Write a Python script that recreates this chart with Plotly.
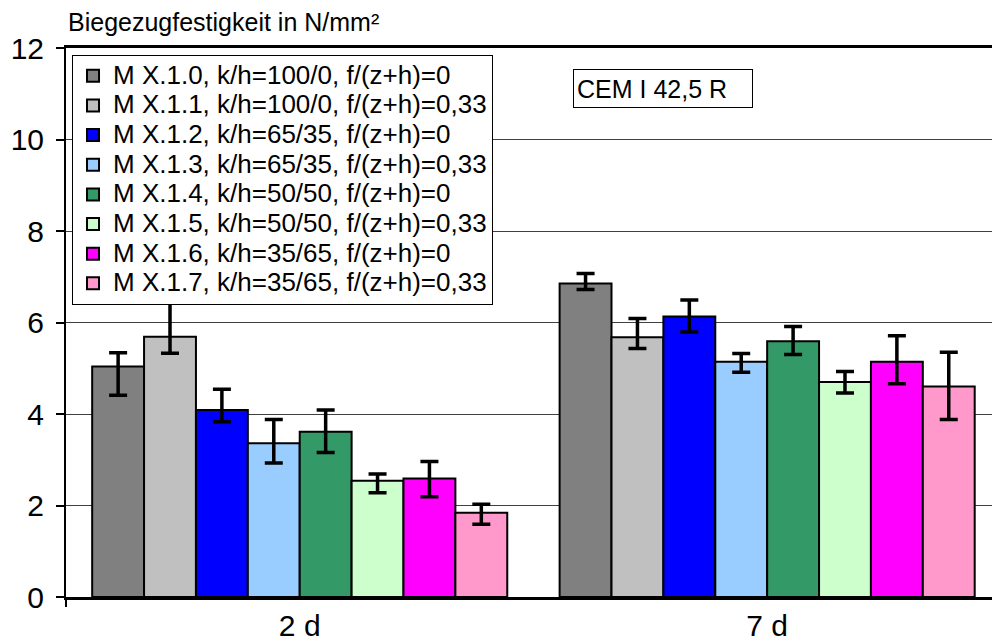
import plotly.graph_objects as go

categories = ["2 d", "7 d"]
series_names = [
    "M X.1.0, k/h=100/0, f/(z+h)=0",
    "M X.1.1, k/h=100/0, f/(z+h)=0,33",
    "M X.1.2, k/h=65/35, f/(z+h)=0",
    "M X.1.3, k/h=65/35, f/(z+h)=0,33",
    "M X.1.4, k/h=50/50, f/(z+h)=0",
    "M X.1.5, k/h=50/50, f/(z+h)=0,33",
    "M X.1.6, k/h=35/65, f/(z+h)=0",
    "M X.1.7, k/h=35/65, f/(z+h)=0,33",
]
colors = ["#808080", "#C0C0C0", "#0000FF", "#99CCFF", "#339966", "#CCFFCC", "#FF00FF", "#FF99CC"]

# mean values [2 d, 7 d]
values = [
    [5.04, 6.85],
    [5.69, 5.68],
    [4.09, 6.13],
    [3.36, 5.14],
    [3.61, 5.59],
    [2.54, 4.70],
    [2.59, 5.14],
    [1.84, 4.60],
]
err_plus = [
    [0.30, 0.22],
    [0.79, 0.41],
    [0.45, 0.36],
    [0.52, 0.18],
    [0.48, 0.32],
    [0.15, 0.23],
    [0.37, 0.57],
    [0.19, 0.75],
]
err_minus = [
    [0.63, 0.13],
    [0.36, 0.25],
    [0.26, 0.34],
    [0.43, 0.23],
    [0.45, 0.29],
    [0.26, 0.24],
    [0.40, 0.48],
    [0.25, 0.72],
]

y_ticks = [0, 2, 4, 6, 8, 10, 12]

FONT = "Arial, Liberation Sans, sans-serif"

fig = go.Figure()
for name, col, v, ep, em in zip(series_names, colors, values, err_plus, err_minus):
    fig.add_trace(go.Bar(
        x=categories, y=v,
        name='<span style="font-size:26px">' + name + '</span>',
        marker=dict(color=col, line=dict(color="black", width=2)),
        error_y=dict(type="data", symmetric=False, array=ep, arrayminus=em,
                     color="black", thickness=3.5, width=9),
    ))

fig.update_layout(
    width=992, height=642,
    margin=dict(l=66, r=0, t=48, b=42),
    paper_bgcolor="white", plot_bgcolor="white",
    barmode="group", bargap=0.112, bargroupgap=0,
    font=dict(family=FONT, color="black"),
    showlegend=True,
    legend=dict(
        x=0.0065, y=0.9873, xanchor="left", yanchor="top",
        bgcolor="white", bordercolor="black", borderwidth=1,
        font=dict(size=20.5, family=FONT, color="black"),
        itemwidth=30, traceorder="normal",
    ),
    xaxis=dict(
        range=[-0.5, 1.481], showgrid=False,
        showline=True, linecolor="black", linewidth=3, mirror=True,
        ticks="", tickfont=dict(size=30, family=FONT),
    ),
    yaxis=dict(
        range=[0, 12], tickvals=y_ticks,
        showgrid=True, gridcolor="#404040", gridwidth=1,
        showline=True, linecolor="black", linewidth=2,
        ticks="outside", ticklen=8, tickwidth=2, tickcolor="black",
        ticklabelstandoff=6,
        tickfont=dict(size=30, family=FONT), zeroline=False,
    ),
    shapes=[
        dict(type="line", xref="x domain", yref="y domain",
             x0=0, x1=0, y0=0, y1=-0.018, line=dict(color="black", width=2)),
    ],
    annotations=[
        dict(text="Biegezugfestigkeit in N/mm²", xref="paper", yref="paper",
             x=0, y=1, xanchor="left", yanchor="bottom", yshift=10,
             showarrow=False, font=dict(size=25, family=FONT)),
        dict(text="CEM I 42,5 R", xref="paper", yref="paper",
             x=0.5475, y=0.926, xanchor="left", yanchor="middle",
             width=172, align="left", height=31,
             showarrow=False, bordercolor="black", borderwidth=1, borderpad=3,
             bgcolor="white", font=dict(size=25, family=FONT)),
    ],
)

fig.write_html("out.html", config={"displayModeBar": False},
               post_script="document.body.style.margin='0px';")
